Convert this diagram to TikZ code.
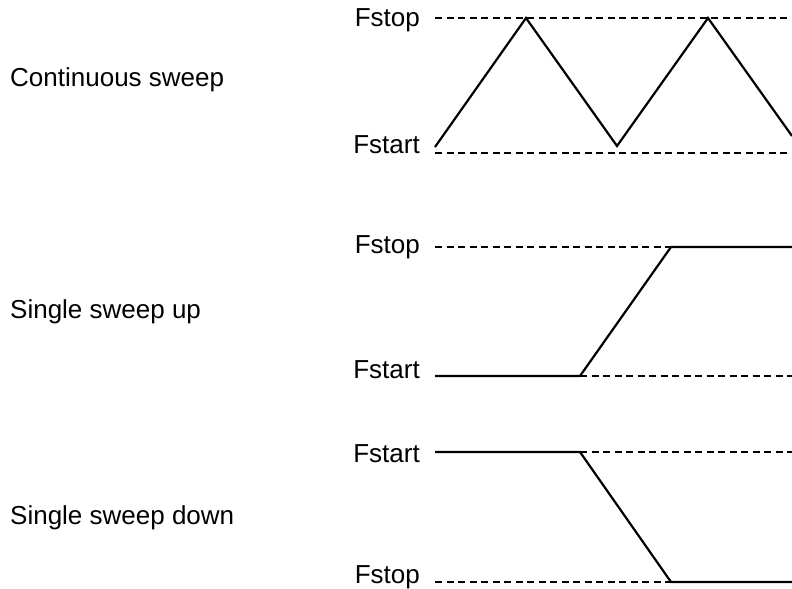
\documentclass[tikz,border=0pt]{standalone}
\usepackage{fontspec}
\setmainfont{Liberation Sans}
\newcommand{\sweepfont}{\fontsize{26bp}{30bp}\selectfont}
\begin{document}
\begin{tikzpicture}[x=1bp,y=-1bp]


\tikzset{mode/.style={anchor=base west,inner sep=0pt,font=\sweepfont},}
\tikzset{level/.style={anchor=base east,inner sep=0pt,font=\sweepfont},}

\tikzset{guide/.style={line width=1.3bp, dash pattern=on 7bp off 4.5bp}}
\tikzset{freq/.style={line width=2.2bp, line join=miter}}

\useasboundingbox (0,0) rectangle (792,589);

	\draw
		(10,87) node[mode] (cont) {Continuous sweep}
		(10,318) node[mode] (up) {Single sweep up}
		(10,524) node[mode] (down) {Single sweep down}
		(420,27) node[level] (cstop) {Fstop}
		(420,154) node[level] (cstart) {Fstart}
		(420,253) node[level] (ustop) {Fstop}
		(420,378) node[level] (ustart) {Fstart}
		(420,462) node[level] (dstart) {Fstart}
		(420,583) node[level] (dstop) {Fstop};

	% continuous sweep
	\coordinate (c0) at (435,147);
	\coordinate (c1) at (526,18);
	\coordinate (c2) at (617,146);
	\coordinate (c3) at (708,18);
	\coordinate (c4) at (792,136);
	\draw[guide](435,18) -- (792,18);
	\draw[guide](435,153) -- (792,153);
	\draw[freq](c0) -- (c1) -- (c2) -- (c3) -- (c4);

	% single sweep up
	\coordinate (u0) at (435,376);
	\coordinate (u1) at (580,376);
	\coordinate (u2) at (671,247);
	\coordinate (u3) at (792,247);
	\draw[guide](435,247) -- (u2);
	\draw[guide](u1) -- (792,376);
	\draw[freq](u0) -- (u1) -- (u2) -- (u3);

	% single sweep down
	\coordinate (d0) at (435,452);
	\coordinate (d1) at (580,452);
	\coordinate (d2) at (671,582);
	\coordinate (d3) at (792,582);
	\draw[guide](d1) -- (792,452);
	\draw[guide](435,582) -- (d2);
	\draw[freq](d0) -- (d1) -- (d2) -- (d3);

\end{tikzpicture}
\end{document}
